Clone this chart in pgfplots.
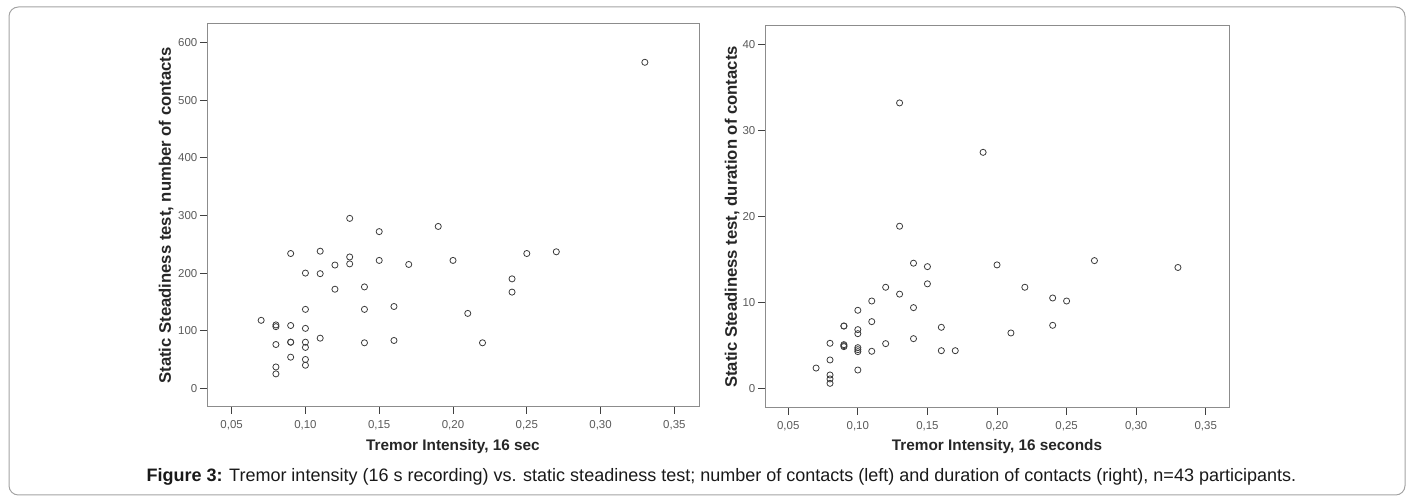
\documentclass[border=0pt]{standalone}
\usepackage{fontspec}
\setmainfont{Liberation Sans}
\usepackage{pgfplots}
\pgfplotsset{compat=1.18}

\definecolor{frame}{HTML}{8C8C8C}
\definecolor{ticklab}{HTML}{5A5A5A}
\definecolor{dots}{HTML}{3C3C3C}

\pgfplotsset{
  spss/.style={
    scale only axis,
    anchor=south west,
    xmin=0.0333, xmax=0.3667,
    xtick={0.05,0.10,0.15,0.20,0.25,0.30,0.35},
    xticklabel style={/pgf/number format/fixed, /pgf/number format/fixed zerofill,
      /pgf/number format/precision=2, /pgf/number format/use comma, yshift=-1.5pt},
    /pgf/number format/assume math mode=true,
    tick align=outside,
    tick pos=left,
    major tick length=5.25pt,
    major tick style={black!75, line width=0.6pt},
    axis line style={frame, line width=0.75pt},
    ticklabel style={font=\fontsize{8.6}{10}\selectfont, text=ticklab},
    yticklabel style={xshift=1.5pt},
    label style={font=\fontsize{11.5}{13}\bfseries\selectfont, text=black!85},
    clip=false,
  },
  pts/.style={only marks, mark=o, mark size=2.3pt, dots, mark options={line width=0.6pt}},
}

\begin{document}
\begin{tikzpicture}
\path (0,0) rectangle (1060.5pt,-373.5pt);
\draw[frame!80, line width=0.75pt, rounded corners=7pt] (6.75pt,-5.25pt) rectangle (1053.75pt,-371.25pt);

% left: number of contacts
\begin{axis}[spss,
  at={(155.25pt,-305.25pt)},
  width=369pt, height=287.25pt,
  ymin=-32.5, ymax=632.5,
  ytick={0,100,200,300,400,500,600},
  xlabel={Tremor Intensity, 16 sec},
  ylabel={Static Steadiness test, number of contacts},
  xlabel style={at={(axis description cs:0.5,-0.104)}, anchor=center},
  ylabel style={at={(axis description cs:-0.0833,0.5)}, anchor=center, font=\fontsize{12.5}{14}\bfseries\selectfont},
]
\addplot[pts] coordinates {
(0.33,566) (0.13,295) (0.15,272) (0.19,281) (0.09,234) (0.11,238)
(0.13,228) (0.13,216) (0.15,222) (0.12,214) (0.17,215) (0.20,222)
(0.25,234) (0.27,237) (0.10,200) (0.11,199) (0.12,172) (0.14,176)
(0.24,190) (0.24,167) (0.10,137) (0.14,137) (0.16,142) (0.21,130)
(0.07,118) (0.08,110) (0.08,107) (0.09,109) (0.10,104) (0.11,87)
(0.09,80) (0.09,80) (0.10,80) (0.10,71) (0.08,76) (0.14,79)
(0.16,83) (0.22,79) (0.09,54) (0.10,50) (0.10,40) (0.08,37)
(0.08,25)
};
\end{axis}

% right: duration of contacts
\begin{axis}[spss,
  at={(573.75pt,-306pt)},
  width=348pt, height=286.5pt,
  ymin=-2.25, ymax=42.2,
  ytick={0,10,20,30,40},
  xlabel={Tremor Intensity, 16 seconds},
  ylabel={Static Steadiness test, duration of contacts},
  xlabel style={at={(axis description cs:0.5,-0.102)}, anchor=center},
  ylabel style={at={(axis description cs:-0.0711,0.5)}, anchor=center, font=\fontsize{12.5}{14}\bfseries\selectfont},
]
\addplot[pts] coordinates {
(0.13,33.25) (0.19,27.5) (0.13,18.9) (0.14,14.6) (0.15,14.2) (0.20,14.4)
(0.27,14.9) (0.33,14.1) (0.15,12.2) (0.12,11.8) (0.22,11.8) (0.13,11.0)
(0.24,10.55) (0.25,10.2) (0.11,10.2) (0.14,9.43) (0.10,9.12) (0.11,7.8)
(0.09,7.29) (0.09,7.29) (0.10,6.87) (0.10,6.4) (0.16,7.14) (0.24,7.37)
(0.21,6.48) (0.14,5.82) (0.08,5.28) (0.09,5.12) (0.09,5.0) (0.09,4.89)
(0.10,4.77) (0.10,4.54) (0.10,4.31) (0.11,4.35) (0.12,5.24) (0.16,4.42)
(0.17,4.42) (0.08,3.34) (0.07,2.4) (0.10,2.17) (0.08,1.59) (0.08,1.13)
(0.08,0.62)
};
\end{axis}

\node[font=\fontsize{13.5}{15}\selectfont, text=black!90] at (541pt,-358pt)
  {\textbf{Figure 3:} Tremor intensity (16 s recording) vs. static steadiness test; number of contacts (left) and duration of contacts (right), n=43 participants.};
\end{tikzpicture}
\end{document}
